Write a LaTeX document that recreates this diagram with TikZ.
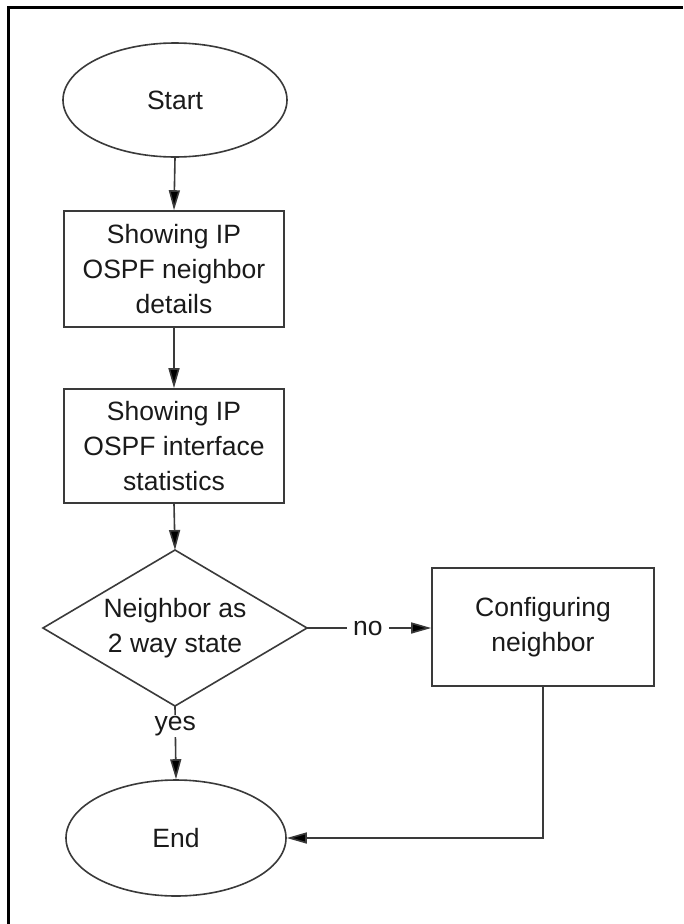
\documentclass[tikz,border=0pt]{standalone}
\usepackage{fontspec}
\setmainfont{Liberation Sans}
\usetikzlibrary{shapes.geometric,arrows.meta}
\definecolor{linec}{HTML}{3A3A3A}
\definecolor{textc}{HTML}{1A1A1A}
\begin{document}
\begin{tikzpicture}[x=1pt,y=-1pt,
  every node/.style={font=\fontsize{26.5}{35}\selectfont, text=textc, align=center},
  shapebox/.style={draw=linec, line width=1.6pt, inner sep=0pt},
  termin/.style={shapebox, ellipse},
  procbox/.style={shapebox, rectangle},
  conn/.style={draw=linec, line width=1.6pt},
  arrowc/.style={conn, -{Triangle[length=20pt,width=11pt,fill=black]}},
  lbl/.style={fill=white, inner xsep=6pt, inner ysep=1pt}
]
\useasboundingbox (0,0) rectangle (683,924);
\fill[white] (0,0) rectangle (683,924);
\draw[line width=3pt, black] (8,924) -- (8,7.5) -- (683,7.5);

\node[termin, minimum width=224pt, minimum height=114pt] (start) at (175,100) {Start};
\node[procbox, minimum width=220pt, minimum height=116pt] (box1) at (174,269) {Showing IP\\OSPF neighbor\\details};
\node[procbox, minimum width=220pt, minimum height=114pt] (box2) at (174,446) {Showing IP\\OSPF interface\\statistics};
% decision diamond
\coordinate (decN) at (175,550);
\coordinate (decS) at (175,706);
\coordinate (decE) at (307,628);
\coordinate (decW) at (43,628);
\draw[conn, line join=miter] (decN) -- (decE) -- (decS) -- (decW) -- cycle;
\node (dec) at (175,628) {Neighbor as\\2 way state};
\node[procbox, minimum width=222pt, minimum height=118pt] (conf) at (543,627) {Configuring\\neighbor};
\node[termin, minimum width=220pt, minimum height=116pt] (end) at (176,838) {End};

\draw[arrowc] (start.south) -- (box1.north);
\draw[arrowc] (box1.south) -- (box2.north);
\draw[arrowc] (box2.south) -- (decN);
\draw[arrowc] (decE) -- node[lbl, pos=0.49] {no} (decE -| conf.west);
\draw[arrowc] (decS) -- node[lbl, pos=0.27, inner xsep=2pt] {yes} (end.north);
\draw[arrowc] (conf.south) |- (end.east);
\end{tikzpicture}
\end{document}
